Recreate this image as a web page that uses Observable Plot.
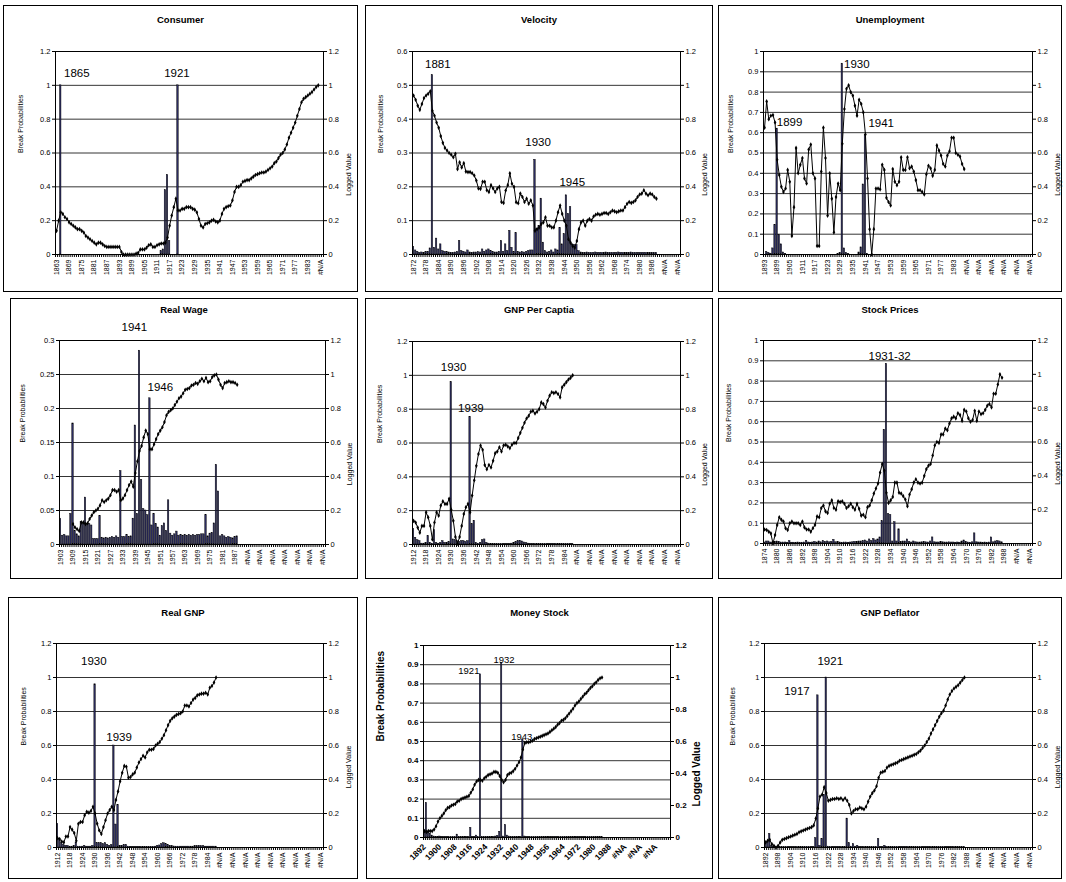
<!DOCTYPE html>
<html><head><meta charset="utf-8">
<script src="https://cdn.jsdelivr.net/npm/d3@7"></script>
<script src="https://cdn.jsdelivr.net/npm/@observablehq/plot@0.6"></script>
<style>
body{margin:0;background:#fff;}
#root{position:relative;width:1066px;height:882px;overflow:hidden;font-family:"Liberation Sans",Arial,sans-serif;background:#fff;}
.box{position:absolute;border:1px solid #000;box-sizing:border-box;}
.ttl{position:absolute;text-align:center;font-weight:bold;font-size:9.5px;line-height:12px;color:#000;}
</style></head><body><div id="root"></div>
<script>
// ---------- tick label lists ----------
const consumerLabels = ["1863","1869","1875","1881","1887","1893","1899","1905","1911","1917","1923","1929","1935","1941","1947","1953","1959","1965","1971","1977","1983","#N/A"];
const velocityLabels = ["1872","1878","1884","1890","1896","1902","1908","1914","1920","1926","1932","1938","1944","1950","1956","1962","1968","1974","1980","1986","#N/A","#N/A"];
const unempLabels = ["1893","1899","1905","1911","1917","1923","1929","1935","1941","1947","1953","1959","1965","1971","1977","1983","#N/A","#N/A","#N/A","#N/A","#N/A","#N/A"];
const realWageLabels = ["1903","1909","1915","1921","1927","1933","1939","1945","1951","1957","1963","1969","1975","1981","1987","#N/A","#N/A","#N/A","#N/A","#N/A","#N/A","#N/A"];
const gnpPcLabels = ["1912","1918","1924","1930","1936","1942","1948","1954","1960","1966","1972","1978","1984","#N/A","#N/A","#N/A","#N/A","#N/A","#N/A","#N/A","#N/A","#N/A"];
const stockLabels = ["1874","1880","1886","1892","1898","1904","1910","1916","1922","1928","1934","1940","1946","1952","1958","1964","1970","1976","1982","1988","#N/A","#N/A"];
const realGnpLabels = ["1912","1918","1924","1930","1936","1942","1948","1954","1960","1966","1972","1978","1984","#N/A","#N/A","#N/A","#N/A","#N/A","#N/A","#N/A","#N/A","#N/A"];
const moneyLabels = ["1892","1900","1908","1916","1924","1932","1940","1948","1956","1964","1972","1980","1988","#NA","#NA","#NA"];
const deflLabels = ["1892","1898","1904","1910","1916","1922","1928","1934","1940","1946","1952","1958","1964","1970","1976","1982","1988","#N/A","#N/A","#N/A","#N/A","#N/A"];

const ticks12 = [0,0.2,0.4,0.6,0.8,1,1.2];
const ticks06 = [0,0.1,0.2,0.3,0.4,0.5,0.6];
const ticks10 = [0,0.1,0.2,0.3,0.4,0.5,0.6,0.7,0.8,0.9,1];
const ticks03 = [0,0.05,0.1,0.15,0.2,0.25,0.3];
const rightTicks = [0,0.2,0.4,0.6,0.8,1,1.2];

// ---------- Consumer ----------
const consumerBars = [0,0,1,0,0,0,0,0,0,0,
0,0,0,0,0,0,0,0,0,0, 0,0,0,0,0,0,0,0,0,0, 0,0,0,0,0,0,0,0,0,0, 0,0,0,0,0,0,0,0,0,0,
0.02,0.03,0.38,0.47,0.08,0,0,0,1,0,
0,0,0,0,0,0,0,0,0,0, 0,0,0,0,0,0,0,0,0,0, 0,0,0,0,0,0,0,0,0,0, 0,0,0,0,0,0,0,0,0,0,
0,0,0,0,0,0,0,0,0,0, 0,0,0,0,0,0,0,0,0,0, 0,0,0,0,0,0];
const consumerLine = [0.14,0.2,0.25,0.24,0.22,0.21,0.19,0.18,0.17,0.16,
0.15,0.15,0.14,0.13,0.11,0.1,0.09,0.08,0.07,0.06,
0.07,0.07,0.06,0.05,0.045,0.045,0.045,0.045,0.045,0.045,
0.045,0.015,0,0,0,0,0,0,0.005,0.01,
0.03,0.03,0.03,0.04,0.055,0.06,0.045,0.045,0.055,0.06,
0.065,0.065,0.07,0.1,0.17,0.23,0.28,0.33,0.26,0.26,
0.27,0.27,0.28,0.28,0.28,0.27,0.265,0.25,0.21,0.17,
0.16,0.18,0.185,0.19,0.2,0.205,0.195,0.19,0.2,0.24,
0.27,0.28,0.285,0.29,0.32,0.37,0.4,0.4,0.41,0.43,
0.435,0.44,0.44,0.45,0.46,0.47,0.475,0.48,0.485,0.485,
0.49,0.5,0.51,0.52,0.54,0.55,0.57,0.59,0.6,0.62,
0.65,0.69,0.72,0.75,0.78,0.82,0.86,0.9,0.92,0.93,
0.94,0.95,0.96,0.975,0.99,1.0];
const consumerNotes = [{label:"1865",x:10.2,y:1.07},{label:"1921",x:58,y:1.07}];

// ---------- Velocity ----------
const velocityBars = [0.022,0.012,0.008,0.005,0.006,0.005,0.007,0.008,0.018,0.53,
0.02,0.047,0.015,0.03,0.01,0.008,0.007,0.006,0.005,0.005,
0.006,0.008,0.04,0.01,0.008,0.006,0.012,0.006,0.005,0.006,
0.006,0.007,0.006,0.015,0.008,0.012,0.015,0.01,0.007,0.006,
0.006,0.008,0.04,0.008,0.03,0.01,0.07,0.02,0.008,0.063,
0.008,0.006,0.007,0.006,0.008,0.01,0.012,0.012,0.28,0.075,
0.085,0.165,0.035,0.01,0.006,0.008,0.012,0.006,0.015,0.012,
0.078,0.03,0.06,0.175,0.12,0.14,0.03,0.028,0.028,0.01,
0.006,0.005,0.005,0.006,0.005,0.005,0.005,0.006,0.005,0.005,
0.005,0.005,0.006,0.005,0.005,0.005,0.005,0.005,0.006,0.005,
0.005,0.005,0.005,0.005,0.006,0.005,0.005,0.005,0.005,0.005,
0.005,0.005,0.005,0.005,0.005,0.005,0.005];
const velocityLine = [0.94,0.915,0.88,0.855,0.89,0.925,0.94,0.95,0.965,0.85,
0.82,0.78,0.75,0.7,0.66,0.63,0.615,0.6,0.59,0.575,
0.595,0.505,0.545,0.515,0.54,0.49,0.487,0.487,0.48,0.467,
0.437,0.39,0.388,0.43,0.43,0.38,0.37,0.41,0.39,0.37,
0.39,0.4,0.31,0.305,0.378,0.41,0.48,0.418,0.4,0.309,
0.303,0.36,0.34,0.31,0.33,0.3,0.32,0.29,0.14,0.15,
0.16,0.18,0.19,0.22,0.17,0.17,0.16,0.16,0.2,0.25,
0.29,0.24,0.2,0.17,0.09,0.07,0.05,0.04,0.08,0.15,
0.19,0.2,0.17,0.2,0.21,0.2,0.225,0.235,0.24,0.235,
0.24,0.245,0.245,0.24,0.25,0.26,0.255,0.25,0.255,0.26,
0.26,0.28,0.3,0.31,0.305,0.31,0.32,0.34,0.355,0.36,
0.38,0.36,0.35,0.36,0.355,0.34,0.33];
const velocityNotes = [{label:"1881",x:12.1,y:0.563},{label:"1930",x:60,y:0.331},{label:"1945",x:76.3,y:0.213}];

// ---------- Unemployment ----------
const unempBars = [0,0.013,0.008,0.004,0.03,0.145,0.62,0.095,0.05,0.01,
0.003,0,0,0,0,0,0,0,0,0, 0,0,0,0,0,0,0,0,0,0,
0,0,0,0,0,0.003,0.008,0.94,0.03,0.008,
0.002,0,0,0,0,0.01,0.035,0.345,0.59,0.003,
0,0,0,0,0,0,0,0,0,0, 0,0,0,0,0,0,0,0,0,0, 0,0,0,0,0,0,0,0,0,0, 0,0,0,0,0,0,0,0,0,0,
0,0,0,0,0,0];
const unempLine = [0.75,0.905,0.8,0.82,0.825,0.78,0.56,0.47,0.4,0.37,
0.39,0.5,0.43,0.11,0.28,0.63,0.48,0.53,0.57,0.45,
0.42,0.62,0.65,0.48,0.45,0.05,0.05,0.49,0.75,0.57,
0.23,0.48,0.33,0.13,0.34,0.42,0.38,0.655,0.86,0.98,
1.0,0.96,0.94,0.88,0.82,0.915,0.89,0.84,0.71,0.45,
0.15,0.0,0.15,0.39,0.39,0.385,0.53,0.5,0.335,0.31,
0.29,0.505,0.43,0.41,0.43,0.575,0.5,0.5,0.575,0.51,
0.52,0.49,0.44,0.38,0.38,0.37,0.355,0.475,0.525,0.51,
0.465,0.5,0.645,0.615,0.585,0.535,0.52,0.585,0.61,0.69,
0.69,0.6,0.59,0.58,0.535,0.505];
const unempNotes = [{label:"1930",x:44.4,y:0.938},{label:"1899",x:12.4,y:0.65},{label:"1941",x:56,y:0.648}];

// ---------- Real Wage ----------
const realWageBars = [0.038,0.013,0.014,0.012,0.012,0.045,0.178,0.02,0.015,0.012,
0.033,0.03,0.069,0.03,0.03,0.028,0.008,0.008,0.008,0.042,
0.01,0.009,0.01,0.009,0.01,0.011,0.01,0.012,0.01,0.108,
0.011,0.011,0.014,0.011,0.012,0.038,0.175,0.045,0.285,0.095,
0.052,0.05,0.043,0.215,0.028,0.045,0.03,0.025,0.013,0.027,
0.031,0.02,0.065,0.016,0.013,0.015,0.019,0.013,0.014,0.013,
0.014,0.013,0.014,0.013,0.014,0.013,0.014,0.014,0.015,0.015,
0.043,0.012,0.016,0.017,0.031,0.117,0.078,0.012,0.014,0.012,
0.01,0.011,0.01,0.009,0.011,0.012];
const realWageLine = [null,null,null,null,null,null,0.12,0.1,0.09,0.08,
0.13,0.13,0.12,0.125,0.15,0.17,0.19,0.2,0.21,0.23,
0.26,0.25,0.26,0.27,0.29,0.32,0.32,0.31,0.32,0.26,
0.27,0.29,0.32,0.35,0.37,0.34,0.42,0.49,0.55,0.58,
0.63,0.67,0.65,0.56,0.56,0.59,0.62,0.65,0.67,0.69,
0.72,0.76,0.78,0.79,0.8,0.82,0.84,0.86,0.87,0.89,
0.91,0.915,0.92,0.935,0.94,0.95,0.945,0.96,0.975,0.96,
0.98,0.955,0.96,0.985,0.995,1.0,0.97,0.94,0.92,0.95,
0.955,0.96,0.955,0.955,0.95,0.94];
const realWageNotes = [{label:"1941",x:36,y:0.32},{label:"1946",x:48.5,y:0.231}];

// ---------- GNP Per Captia ----------
const gnpPcBars = [0.09,0.04,0.025,0.02,0.005,0.005,0.01,0.05,0.01,0.005,
0.085,0.01,0.005,0.01,0.02,0.01,0.01,0.015,0.96,0.03,
0.025,0.02,0.015,0.02,0.02,0.015,0.02,0.755,0.12,0.14,
0.01,0.005,0.01,0.025,0.03,0.01,0.005,0.003,0.003,0.003,
0.003,0.003,0.003,0.003,0.003,0.003,0.003,0.005,0.01,0.015,
0.02,0.022,0.018,0.012,0.008,0.005,0.003,0.003,0.003,0.003,
0.003,0.003,0.003,0.003,0.003,0.003,0.003,0.003,0.003,0.003,
0.003,0.003,0.003,0.003,0.003,0.003,0.003];
const gnpPcLine = [0.14,0.13,0.1,0.07,0.11,0.11,0.19,0.16,0.11,0.03,
0.13,0.19,0.17,0.23,0.255,0.24,0.24,0.27,0.205,0.14,
0.045,0.005,0.045,0.11,0.18,0.22,0.24,0.19,0.29,0.38,
0.465,0.535,0.585,0.56,0.47,0.445,0.47,0.455,0.495,0.54,
0.55,0.575,0.55,0.585,0.59,0.58,0.57,0.59,0.6,0.6,
0.63,0.66,0.69,0.72,0.745,0.76,0.785,0.79,0.775,0.785,
0.8,0.84,0.83,0.81,0.85,0.88,0.9,0.895,0.9,0.89,
0.87,0.93,0.945,0.96,0.975,0.985,1.0];
const gnpPcNotes = [{label:"1930",x:19.6,y:1.047},{label:"1939",x:27.9,y:0.807}];

// ---------- Stock Prices ----------
const stockBars = [0.005,0.01,0.01,0.005,0.005,0.008,0.01,0.008,0.005,0.005,
0.005,0.004,0.012,0.004,0.004,0.004,0.005,0.004,0.004,0.005,
0.013,0.005,0.004,0.005,0.008,0.005,0.01,0.006,0.012,0.008,
0.01,0.006,0.008,0.018,0.006,0.008,0.005,0.004,0.005,0.005,
0.004,0.005,0.006,0.008,0.008,0.01,0.01,0.012,0.015,0.01,
0.02,0.012,0.022,0.015,0.02,0.03,0.11,0.56,0.885,0.145,
0.14,0.01,0.105,0.01,0.07,0.008,0.01,0.01,0.02,0.008,
0.005,0.01,0.006,0.005,0.005,0.006,0.008,0.006,0.005,0.01,
0.03,0.006,0.005,0.005,0.008,0.006,0.005,0.005,0.006,0.005,
0.005,0.004,0.005,0.004,0.01,0.015,0.008,0.005,0.004,0.006,
0.05,0.006,0.005,0.005,0.004,0.005,0.004,0.005,0.03,0.006,
0.01,0.012,0.01,0.006];
const stockLine = [0.083,0.08,0.07,0.06,0.0,0.05,0.11,0.155,0.14,0.13,
0.09,0.08,0.12,0.13,0.12,0.12,0.12,0.11,0.13,0.095,
0.083,0.083,0.07,0.09,0.11,0.16,0.155,0.21,0.225,0.19,
0.18,0.235,0.255,0.21,0.2,0.25,0.245,0.25,0.235,0.21,
0.22,0.235,0.215,0.2,0.235,0.205,0.165,0.17,0.155,0.215,
0.225,0.255,0.295,0.325,0.355,0.42,0.47,0.43,0.3,0.24,
0.255,0.275,0.36,0.36,0.3,0.295,0.28,0.26,0.22,0.29,
0.32,0.36,0.38,0.36,0.355,0.36,0.4,0.44,0.46,0.47,
0.52,0.58,0.6,0.595,0.645,0.645,0.68,0.67,0.71,0.74,
0.75,0.74,0.77,0.76,0.725,0.79,0.78,0.74,0.72,0.73,
0.785,0.725,0.78,0.765,0.77,0.79,0.815,0.825,0.805,0.885,
0.885,0.94,1.0,0.98];
const stockNotes = [{label:"1931-32",x:60,y:0.923}];

// ---------- Real GNP ----------
const realGnpBars = [0.14,0.05,0.025,0.015,0.01,0.01,0.005,0.005,0.01,0.03,
0.005,0.005,0.005,0.01,0.005,0.005,0.005,0.01,0.96,0.025,
0.025,0.025,0.02,0.025,0.015,0.01,0.015,0.6,0.135,0.25,
0.01,0.01,0.015,0.015,0.005,0.004,0.004,0.004,0.004,0.004,
0.004,0.004,0.004,0.004,0.004,0.004,0.004,0.005,0.01,0.012,
0.02,0.025,0.02,0.015,0.01,0.008,0.006,0.005,0.005,0.005,
0.005,0.005,0.005,0.005,0.005,0.005,0.008,0.008,0.01,0.008,
0.008,0.005,0.005,0.005,0.005,0.005,0.005];
const realGnpLine = [0.055,0.05,0.035,0.03,0.065,0.065,0.12,0.105,0.085,0.04,
0.14,0.15,0.15,0.19,0.21,0.205,0.215,0.24,0.2,0.14,
0.1,0.08,0.12,0.16,0.2,0.22,0.24,0.22,0.28,0.33,
0.39,0.44,0.48,0.475,0.41,0.415,0.43,0.44,0.47,0.5,
0.52,0.54,0.53,0.56,0.575,0.575,0.58,0.6,0.61,0.62,
0.64,0.66,0.69,0.72,0.745,0.76,0.77,0.78,0.785,0.79,
0.8,0.835,0.835,0.83,0.85,0.87,0.88,0.895,0.9,0.905,
0.905,0.91,0.9,0.94,0.95,0.97,1.0];
const realGnpNotes = [{label:"1930",x:17.9,y:1.094},{label:"1939",x:30,y:0.647}];

// ---------- Money Stock ----------
const moneyBars = [0.03,0.18,0.025,0.02,0.01,0.005,0.003,0.003,0.005,0.003,
0.002,0.002,0.002,0.002,0.002,0.002,0.002,0.015,0.002,0.002,
0.002,0.002,0.002,0.002,0.05,0.002,0.003,0.01,0.002,0.85,
0.003,0.002,0.002,0.002,0.002,0.002,0.002,0.005,0.008,0.03,
0.91,0.005,0.065,0.01,0.005,0.003,0.002,0.002,0.002,0.002,
0.002,0.51,0.005,0.002,0.002,0.002,0.002,0.002,0.002,0.002,
0.002,0.002,0.002,0.002,0.002,0.002,0.002,0.002,0.002,0.002,
0.002,0.002,0.002,0.002,0.002,0.002,0.002,0.002,0.002,0.002,
0.002,0.002,0.002,0.002,0.002,0.002,0.002,0.002,0.002,0.002,
0.002,0.002,0.002];
const moneyLine = [0.04,0.035,0.04,0.04,0.04,0.05,0.07,0.1,0.12,0.135,
0.15,0.17,0.185,0.19,0.2,0.205,0.21,0.225,0.23,0.24,
0.245,0.25,0.255,0.26,0.28,0.3,0.33,0.35,0.36,0.36,
0.355,0.37,0.38,0.39,0.395,0.4,0.41,0.41,0.405,0.385,
0.36,0.345,0.36,0.39,0.4,0.405,0.415,0.43,0.45,0.47,
0.5,0.55,0.59,0.595,0.595,0.6,0.605,0.615,0.62,0.625,
0.63,0.635,0.64,0.645,0.65,0.66,0.67,0.68,0.69,0.705,
0.715,0.73,0.735,0.745,0.76,0.775,0.79,0.805,0.825,0.84,
0.85,0.865,0.88,0.895,0.905,0.92,0.935,0.945,0.96,0.97,
0.985,0.995,1.0];
const moneyNotes = [{label:"1921",x:23.5,y:0.866},{label:"1932",x:41.7,y:0.927},{label:"1943",x:50.9,y:0.522}];

// ---------- GNP Deflator ----------
const deflBars = [0.02,0.03,0.08,0.01,0.005,0.003,0.003,0.003,0.003,0.003,
0.003,0.003,0.003,0.003,0.003,0.003,0.003,0.003,0.003,0.003,
0.003,0.003,0.003,0.003,0.055,0.895,0.01,0.05,0.31,1.0,
0.005,0.003,0.003,0.003,0.003,0.003,0.003,0.003,0.003,0.17,
0.025,0.005,0.02,0.005,0.01,0.003,0.003,0.003,0.003,0.003,
0.003,0.003,0.003,0.003,0.05,0.003,0.003,0.01,0.003,0.003,
0.003,0.003,0.003,0.003,0.003,0.003,0.003,0.003,0.003,0.003,
0.003,0.003,0.003,0.003,0.003,0.003,0.003,0.003,0.003,0.003,
0.003,0.003,0.003,0.003,0.003,0.003,0.003,0.003,0.003,0.003,
0.003,0.003,0.003,0.003,0.003,0.003];
const deflLine = [0.03,0.04,0.045,0.02,0.01,0,0.01,0.03,0.045,0.05,
0.055,0.06,0.065,0.07,0.075,0.08,0.09,0.095,0.1,0.105,
0.11,0.115,0.12,0.13,0.17,0.23,0.3,0.31,0.355,0.32,
0.275,0.28,0.285,0.285,0.29,0.285,0.29,0.28,0.29,0.275,
0.25,0.2,0.215,0.225,0.225,0.235,0.23,0.225,0.24,0.27,
0.3,0.32,0.335,0.36,0.41,0.44,0.445,0.45,0.47,0.48,
0.485,0.49,0.495,0.5,0.51,0.515,0.52,0.525,0.53,0.535,
0.54,0.545,0.55,0.56,0.57,0.585,0.6,0.62,0.64,0.67,
0.695,0.72,0.745,0.77,0.79,0.805,0.835,0.87,0.9,0.92,
0.935,0.945,0.955,0.97,0.985,1.0];
const deflNotes = [{label:"1921",x:31.4,y:1.098},{label:"1917",x:15.5,y:0.92}];

// ---------- layout ----------
const panels = [
 {title:"Consumer", box:{x:3,y:5,w:355,h:287}, plot:{l:55,t:51,r:323,b:254}, titleY:20, lab:[-35,25], leftMax:1.2, leftTicks:ticks12, bars:consumerBars, line:consumerLine, labels:consumerLabels, every:6, notes:consumerNotes},
 {title:"Velocity", box:{x:365,y:5,w:348,h:287}, plot:{l:412,t:51,r:680,b:254}, titleY:20, lab:[-32,24], leftMax:0.6, leftTicks:ticks06, bars:velocityBars, line:velocityLine, labels:velocityLabels, every:6, notes:velocityNotes},
 {title:"Unemployment", box:{x:718,y:5,w:344,h:287}, plot:{l:763,t:51,r:1032,b:254}, titleY:20, lab:[-33,25], leftMax:1, leftTicks:ticks10, bars:unempBars, line:unempLine, labels:unempLabels, every:6, notes:unempNotes},
 {title:"Real Wage", box:{x:10,y:298,w:348,h:281}, plot:{l:59,t:340,r:325,b:544}, titleY:310, lab:[-37,24], leftMax:0.3, leftTicks:ticks03, bars:realWageBars, line:realWageLine, labels:realWageLabels, every:6, notes:realWageNotes},
 {title:"GNP Per Captia", box:{x:365,y:298,w:348,h:281}, plot:{l:412,t:341,r:680,b:544}, titleY:310, lab:[-33,24], leftMax:1.2, leftTicks:ticks12, bars:gnpPcBars, line:gnpPcLine, labels:gnpPcLabels, every:6, notes:gnpPcNotes},
 {title:"Stock Prices", box:{x:718,y:298,w:344,h:281}, plot:{l:763,t:340,r:1032,b:543}, titleY:310, lab:[-35,25], leftMax:1, leftTicks:ticks10, bars:stockBars, line:stockLine, labels:stockLabels, every:6, notes:stockNotes},
 {title:"Real GNP", box:{x:8,y:597,w:350,h:282}, plot:{l:56,t:643,r:323,b:847}, titleY:613, lab:[-33,25], leftMax:1.2, leftTicks:ticks12, bars:realGnpBars, line:realGnpLine, labels:realGnpLabels, every:6, notes:realGnpNotes},
 {title:"Money Stock", box:{x:366,y:597,w:347,h:282}, plot:{l:423,t:645,r:670,b:837}, titleY:613, lab:[-43,26], leftMax:1, leftTicks:ticks10, bars:moneyBars, line:moneyLine, labels:moneyLabels, every:8, notes:moneyNotes, bold:true},
 {title:"GNP Deflator", box:{x:718,y:597,w:344,h:282}, plot:{l:764,t:643,r:1032,b:847}, titleY:613, lab:[-32,25], leftMax:1.2, leftTicks:ticks12, bars:deflBars, line:deflLine, labels:deflLabels, every:6, notes:deflNotes}
];

const N = 128;
const fmt = d => String(+(+d).toFixed(3));
const root = document.getElementById("root");

for (const p of panels) {
  const box = document.createElement("div");
  box.className = "box";
  Object.assign(box.style, {left: p.box.x + "px", top: p.box.y + "px", width: p.box.w + "px", height: p.box.h + "px"});
  root.appendChild(box);
  const t = document.createElement("div");
  t.className = "ttl";
  t.textContent = p.title;
  Object.assign(t.style, {left: p.box.x + "px", width: p.box.w + "px", top: (p.titleY - 6) + "px"});
  root.appendChild(t);

  const sx = p.box.x + 1, sy = p.box.y + 24, sw = p.box.w - 2, sh = p.box.y + p.box.h - 1 - sy;
  const k = p.leftMax / 1.2;
  const bold = !!p.bold;
  const barData = p.bars.map((v, i) => ({i, v}));
  const lineData = p.line.map((v, i) => ({i, v})).filter(d => d.v != null);
  const tickFont = bold ? 8 : 7.5;
  const xFont = bold ? 8.5 : 7;
  const fw = bold ? "bold" : "normal";
  const titleFont = bold ? 10 : 7;
  const noteFont = bold ? 9.5 : 11.5;

  const svg = Plot.plot({
    width: sw, height: sh,
    marginLeft: p.plot.l - sx, marginRight: sx + sw - p.plot.r,
    marginTop: p.plot.t - sy, marginBottom: sy + sh - p.plot.b,
    x: {domain: [0, N]},
    y: {domain: [0, p.leftMax]},
    style: {fontFamily: "'Liberation Sans', Arial, sans-serif", fontSize: "7.5px", background: "transparent", overflow: "visible", color: "#000"},
    marks: [
      Plot.ruleY(p.leftTicks, {stroke: "#000", strokeWidth: 0.8}),
      Plot.rectY(barData, {x1: d => d.i + 0.15, x2: d => d.i + 0.85, y: "v", fill: "#2c2c60", stroke: "#000", strokeWidth: 0.45}),
      Plot.line(lineData, {x: d => d.i + 0.5, y: d => d.v * k, stroke: "#000", strokeWidth: 1}),
      Plot.dot(lineData, {x: d => d.i + 0.5, y: d => d.v * k, symbol: "diamond", r: 1.4, fill: "#000", stroke: "none"}),
      Plot.frame({stroke: "#000", strokeWidth: 1}),
      Plot.axisY({ticks: p.leftTicks, tickFormat: fmt, tickSize: 3, tickPadding: 2, fontSize: tickFont, fontWeight: fw, label: null}),
      Plot.axisY({anchor: "right", ticks: rightTicks.map(r => r * k), tickFormat: d => fmt(d / k), tickSize: 3, tickPadding: 2, fontSize: tickFont, fontWeight: fw, label: null}),
      Plot.axisX({ticks: d3.range(0, N + 1), tickSize: 3, tickFormat: () => "", label: null}),
      Plot.axisX({ticks: p.labels.map((_, j) => j * p.every + 0.5), tickFormat: d => p.labels[Math.round((d - 0.5) / p.every)], tickRotate: bold ? -45 : -90, tickSize: 0, tickPadding: bold ? 8 : 5, fontSize: xFont, fontWeight: fw, label: null}),
      Plot.text(["Break Probabilities"], {text: d => d, frameAnchor: "left", dx: p.lab[0], rotate: -90, fontSize: titleFont, fontWeight: fw}),
      Plot.text(["Logged Value"], {text: d => d, frameAnchor: "right", dx: p.lab[1], rotate: -90, fontSize: titleFont, fontWeight: fw}),
      Plot.text(p.notes, {x: "x", y: "y", text: "label", fontSize: noteFont})
    ]
  });
  svg.style.position = "absolute";
  svg.style.left = sx + "px";
  svg.style.top = sy + "px";
  root.appendChild(svg);
}
</script></body></html>
